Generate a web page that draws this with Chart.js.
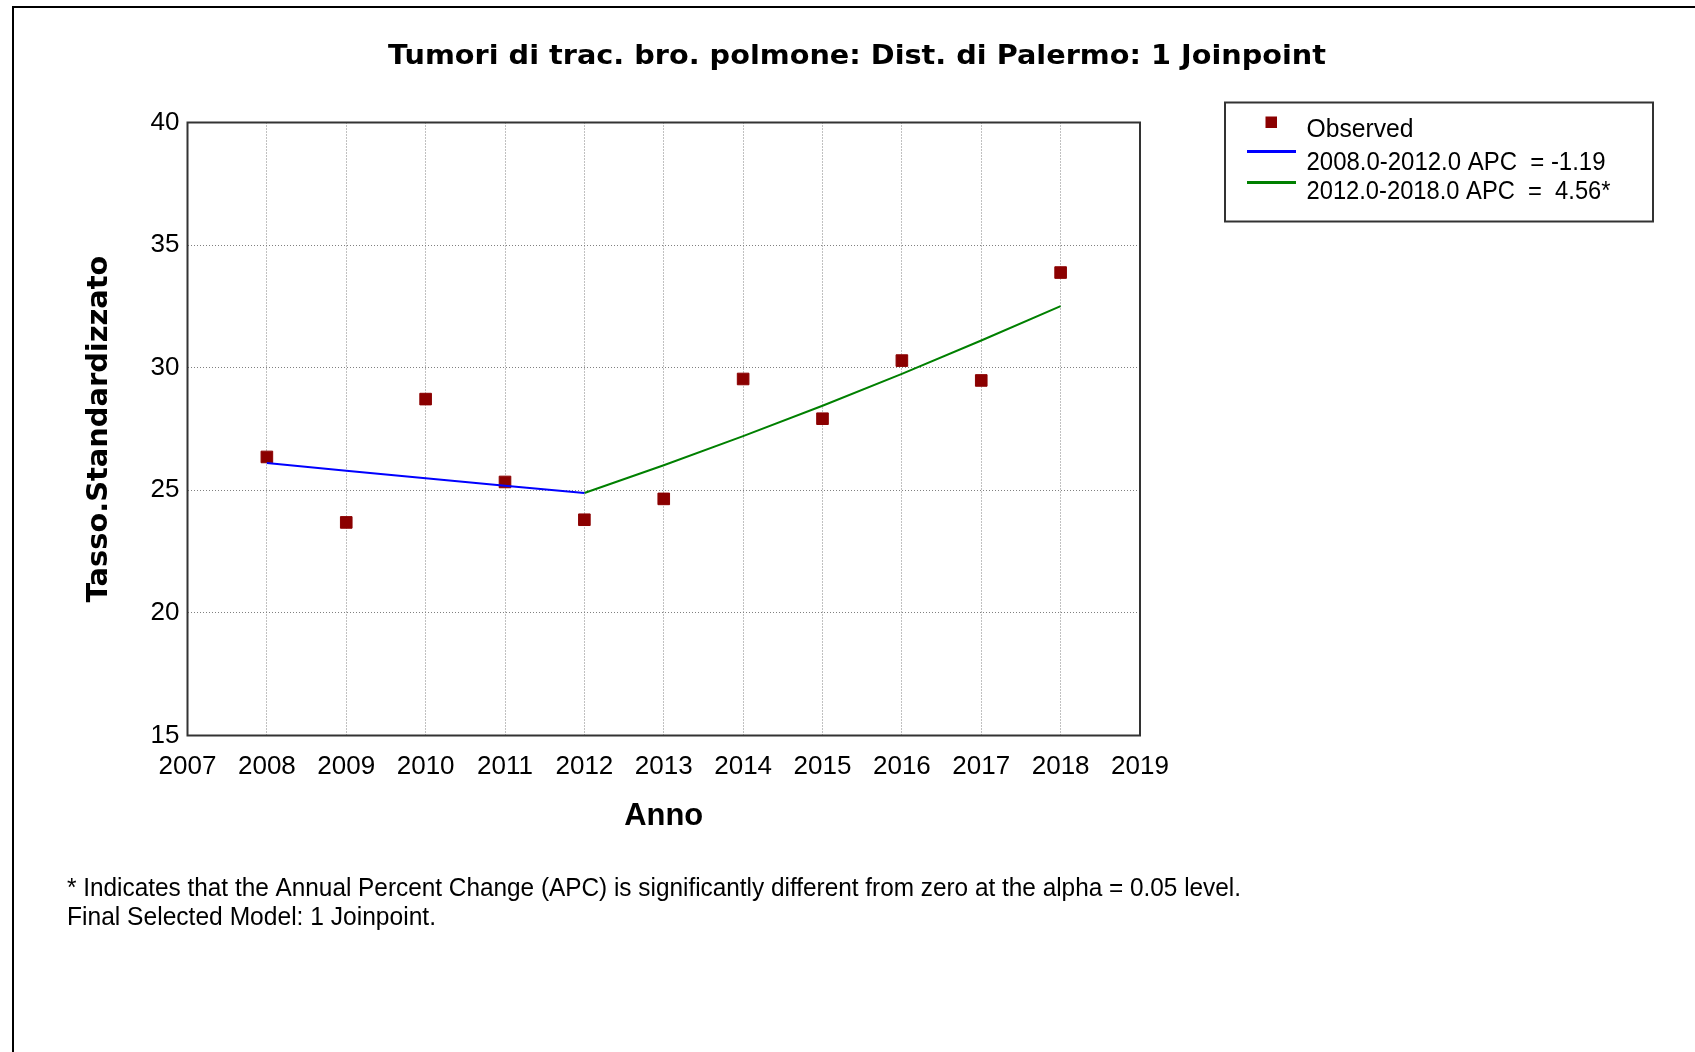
<!DOCTYPE html>
<html>
<head>
<meta charset="utf-8">
<script src="https://cdn.jsdelivr.net/npm/chart.js@4.4.1/dist/chart.umd.min.js"></script>
<style>
html,body{margin:0;padding:0;background:#fff;overflow:hidden;}
canvas{display:block;}
</style>
</head>
<body>
<canvas id="c" width="1695" height="1052"></canvas>
<script>
// ---- data ----
const years = [2008, 2009, 2010, 2011, 2012, 2013, 2014, 2015, 2016, 2017, 2018];
const observed = [26.36, 23.69, 28.72, 25.34, 23.80, 24.65, 29.54, 27.92, 30.29, 29.48, 33.88];
const seg1Years = [2008, 2009, 2010, 2011, 2012];
const seg1Fit = [26.11, 25.80, 25.49, 25.19, 24.89];
const seg2Years = [2012, 2013, 2014, 2015, 2016, 2017, 2018];
const seg2Fit = [24.89, 26.02, 27.21, 28.45, 29.75, 31.11, 32.51];
const xTickValues = [2007, 2008, 2009, 2010, 2011, 2012, 2013, 2014, 2015, 2016, 2017, 2018, 2019];
const yTickValues = [15, 20, 25, 30, 35, 40];
const titleText = "Tumori di trac. bro. polmone: Dist. di Palermo: 1 Joinpoint";
const yTitleText = "Tasso.Standardizzato";
const xTitleText = "Anno";
const legendLabels = ["Observed", "2008.0-2012.0 APC  = -1.19", "2012.0-2018.0 APC  =  4.56*"];
const footnoteLines = [
  "* Indicates that the Annual Percent Change (APC) is significantly different from zero at the alpha = 0.05 level.",
  "Final Selected Model: 1 Joinpoint."
];

// ---- styling ----
const OBS_COLOR = '#8b0000';
const SEG1_COLOR = '#0000ff';
const SEG2_COLOR = '#008000';
const AREA = {left: 187.5, top: 122.5, right: 1140, bottom: 735.5};
const W = 1695, H = 1052;

const mctx = document.createElement('canvas').getContext('2d');
function measure(font, text){ mctx.font = font; return mctx.measureText(text).width; }
function hasFont(name){
  const t = '2007 Observed Model';
  return measure('40px monospace', t) !== measure('40px "' + name + '", monospace', t);
}
const narrow = hasFont('Liberation Sans Narrow');
const tickFamily = narrow ? '"Liberation Sans Narrow", "Liberation Sans", Arial, sans-serif' : '"Liberation Sans", Arial, sans-serif';
const tickSize = narrow ? 30 : 26;
const xTickPad = 31.1 - tickSize * 0.6;

const yTitleSize = 100 * 347 / measure('bold 100px "DejaVu Sans"', yTitleText);
const xTitleSize = 100 * 79 / measure('bold 100px "Liberation Sans"', xTitleText);

function fitText(ctx, text, x, y, font, width, align){
  ctx.save();
  ctx.font = font;
  const w = ctx.measureText(text).width;
  ctx.translate(x, y);
  ctx.scale(width / w, 1);
  ctx.textAlign = align;
  ctx.textBaseline = 'alphabetic';
  ctx.fillStyle = '#000';
  ctx.fillText(text, 0, 0);
  ctx.restore();
}

const decor = {
  id: 'decor',
  beforeDraw(chart){
    const ctx = chart.ctx;
    ctx.save();
    ctx.fillStyle = '#fff';
    ctx.fillRect(0, 0, W, H);
    ctx.strokeStyle = '#000';
    ctx.lineWidth = 2;
    ctx.beginPath();
    ctx.moveTo(13, H);
    ctx.lineTo(13, 7);
    ctx.lineTo(W, 7);
    ctx.stroke();
    ctx.restore();
  },
  afterDraw(chart){
    const ctx = chart.ctx;
    const a = chart.chartArea;
    ctx.save();
    // plot frame
    ctx.strokeStyle = '#333';
    ctx.lineWidth = 2;
    ctx.strokeRect(a.left, a.top, a.right - a.left, a.bottom - a.top);
    // title
    fitText(ctx, titleText, 857, 63.5, 'bold 27px "DejaVu Sans"', 938, 'center');
    // legend box
    ctx.strokeStyle = '#333';
    ctx.lineWidth = 2;
    ctx.strokeRect(1225, 102.5, 428, 119);
    ctx.fillStyle = OBS_COLOR;
    ctx.fillRect(1265.5, 116.5, 11.5, 11.5);
    ctx.lineWidth = 3;
    ctx.strokeStyle = SEG1_COLOR;
    ctx.beginPath(); ctx.moveTo(1247, 151.5); ctx.lineTo(1296, 151.5); ctx.stroke();
    ctx.strokeStyle = SEG2_COLOR;
    ctx.beginPath(); ctx.moveTo(1247, 182.5); ctx.lineTo(1296, 182.5); ctx.stroke();
    fitText(ctx, legendLabels[0], 1306.5, 137, '26px "Liberation Sans"', 107, 'left');
    fitText(ctx, legendLabels[1], 1306.5, 170, '26px "Liberation Sans"', 299, 'left');
    fitText(ctx, legendLabels[2], 1306.5, 198.5, '26px "Liberation Sans"', 304, 'left');
    // footnote
    fitText(ctx, footnoteLines[0], 67, 896, '25px "Liberation Sans"', 1174, 'left');
    fitText(ctx, footnoteLines[1], 67, 925, '25px "Liberation Sans"', 369, 'left');
    ctx.restore();
  }
};

const xHeight = 120;
const cfg = {
  type: 'scatter',
  data: {
    datasets: [
      {
        label: legendLabels[1],
        data: seg1Years.map((x, i) => ({x, y: seg1Fit[i]})),
        showLine: true,
        borderColor: SEG1_COLOR,
        borderWidth: 2,
        pointRadius: 0,
        fill: false,
        tension: 0
      },
      {
        label: legendLabels[2],
        data: seg2Years.map((x, i) => ({x, y: seg2Fit[i]})),
        showLine: true,
        borderColor: SEG2_COLOR,
        borderWidth: 2,
        pointRadius: 0,
        fill: false,
        tension: 0
      },
      {
        label: legendLabels[0],
        data: years.map((x, i) => ({x, y: observed[i]})),
        showLine: false,
        pointStyle: 'rect',
        pointRadius: 8.2,
        pointBorderWidth: 1,
        backgroundColor: OBS_COLOR,
        borderColor: OBS_COLOR
      }
    ]
  },
  options: {
    responsive: false,
    animation: false,
    devicePixelRatio: 1,
    layout: {
      padding: {left: 0, top: AREA.top, right: W - AREA.right, bottom: H - AREA.bottom - xHeight}
    },
    plugins: {
      legend: {display: false},
      title: {display: false},
      tooltip: {enabled: false}
    },
    scales: {
      x: {
        type: 'linear',
        min: xTickValues[0],
        max: xTickValues[xTickValues.length - 1],
        afterBuildTicks: s => { s.ticks = xTickValues.map(v => ({value: v})); },
        afterFit: s => { s.height = xHeight; },
        grid: {color: '#808080', lineWidth: 1, drawTicks: false},
        border: {display: false, dash: [1, 2]},
        ticks: {
          padding: xTickPad,
          color: '#000',
          font: {family: tickFamily, size: tickSize},
          maxRotation: 0,
          autoSkip: false,
          callback: v => String(v)
        },
        title: {
          display: true,
          text: xTitleText,
          color: '#000',
          font: {family: '"Liberation Sans"', size: xTitleSize, weight: 'bold'},
          padding: {top: 0, bottom: 39.5 - xTitleSize * 0.6}
        }
      },
      y: {
        type: 'linear',
        min: yTickValues[0],
        max: yTickValues[yTickValues.length - 1],
        afterBuildTicks: s => { s.ticks = yTickValues.map(v => ({value: v})); },
        afterFit: s => { s.width = AREA.left; },
        grid: {color: '#808080', lineWidth: 1, drawTicks: false},
        border: {display: false, dash: [1, 2]},
        ticks: {
          padding: 8,
          color: '#000',
          font: {family: tickFamily, size: tickSize},
          autoSkip: false,
          callback: v => String(v)
        },
        title: {
          display: true,
          text: yTitleText,
          color: '#000',
          font: {family: '"DejaVu Sans"', size: yTitleSize, weight: 'bold'},
          padding: {top: 99.5 - yTitleSize * 0.6, bottom: 0}
        }
      }
    }
  },
  plugins: [decor]
};

new Chart(document.getElementById('c'), cfg);
</script>
</body>
</html>
